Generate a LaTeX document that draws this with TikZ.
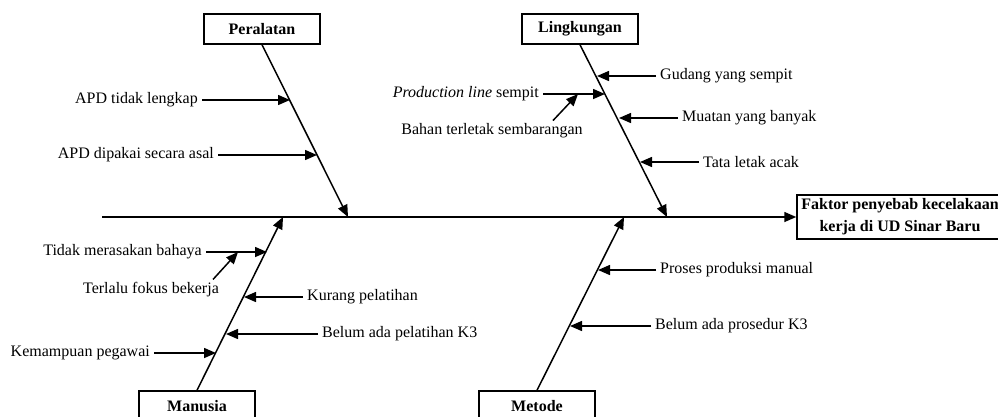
\documentclass[tikz,border=0pt]{standalone}
\usepackage{fontspec}
\setmainfont{Liberation Serif}
\usetikzlibrary{arrows.meta}

\begin{document}
\begin{tikzpicture}
[x=1pt,y=-1pt,
  boxDecorate/.style={shape=rectangle,draw,line width=1.5pt,minimum width=116pt,minimum height=30pt,inner sep=2pt,font=\fontsize{16}{19}\selectfont\bfseries},
  causeLeft/.style={anchor=east,inner xsep=4pt,inner ysep=1pt,font=\fontsize{16}{19}\selectfont},
  causeRight/.style={causeLeft,anchor=west},
  causeFree/.style={causeLeft,anchor=center},
  lineDecorate/.style={-{Triangle[length=12pt,width=10pt]},line width=1.5pt}]
\useasboundingbox (0,0) rectangle (998,416);
%% category boxes
\foreach \nodename/\x/\y/\txt in {peralatan/262/29/Peralatan, lingkungan/580/29/Lingkungan, manusia/197/406/Manusia, metode/537/406/Metode} {
  \node (\nodename) at (\x,\y) [boxDecorate] {\txt};
}
%% effect box
\node (hasil) at (900,217) [boxDecorate,minimum width=206pt,minimum height=44pt,align=center,font=\fontsize{16}{22}\selectfont\bfseries] {Faktor penyebab kecelakaan\\kerja di UD Sinar Baru};
%% points on the spine
\foreach \nodename/\x in {spine/102, pspine/348, lspine/667, mspine/283, tspine/624} {
  \coordinate (\nodename) at (\x,217);
}
%% spine and bones
\path
\foreach \startnode/\endnode in {spine/hasil, peralatan.south/pspine, lingkungan.south/lspine, manusia.north/mspine, metode.north/tspine} {
  (\startnode) edge[lineDecorate] (\endnode)
};
%% causes left of a bone
\foreach \nodename/\x/\y/\tip/\txt in {apdA/202/100/290/APD tidak lengkap, apdB/218/155/317/APD dipakai secara asal, prodline/543/94/605/\textit{Production line} sempit, tidak/206/252/267/Tidak merasakan bahaya, kemampuan/154/353/216/Kemampuan pegawai} {
  \node (\nodename) at (\x,\y) [causeLeft] {\txt};
  \coordinate (\nodename tip) at (\tip,\y);
  \draw[lineDecorate] (\nodename) -- (\nodename tip);
}
%% causes right of a bone
\foreach \nodename/\x/\y/\tip/\txt in {gudang/656/76/597/Gudang yang sempit, muatan/678/118/619/Muatan yang banyak, tata/699/162/640/Tata letak acak, kurang/303/297/244/Kurang pelatihan, pelatihan/318/334/226/Belum ada pelatihan K3, proses/656/270/598/Proses produksi manual, prosedur/651/326/570/Belum ada prosedur K3} {
  \node (\nodename) at (\x,\y) [causeRight] {\txt};
  \coordinate (\nodename tip) at (\tip,\y);
  \draw[lineDecorate] (\nodename) -- (\nodename tip);
}
%% sub-causes
\node (bahan) at (492,131) [causeFree] {Bahan terletak sembarangan};
\node (terlalu) at (151,290) [causeFree] {Terlalu fokus bekerja};
\draw[lineDecorate] ([xshift=61pt,yshift=2pt]bahan.north) -- ([xshift=35pt]prodline.east);
\draw[lineDecorate] ([xshift=62pt,yshift=2pt]terlalu.north) -- ([xshift=32pt]tidak.east);
\end{tikzpicture}
\end{document}
